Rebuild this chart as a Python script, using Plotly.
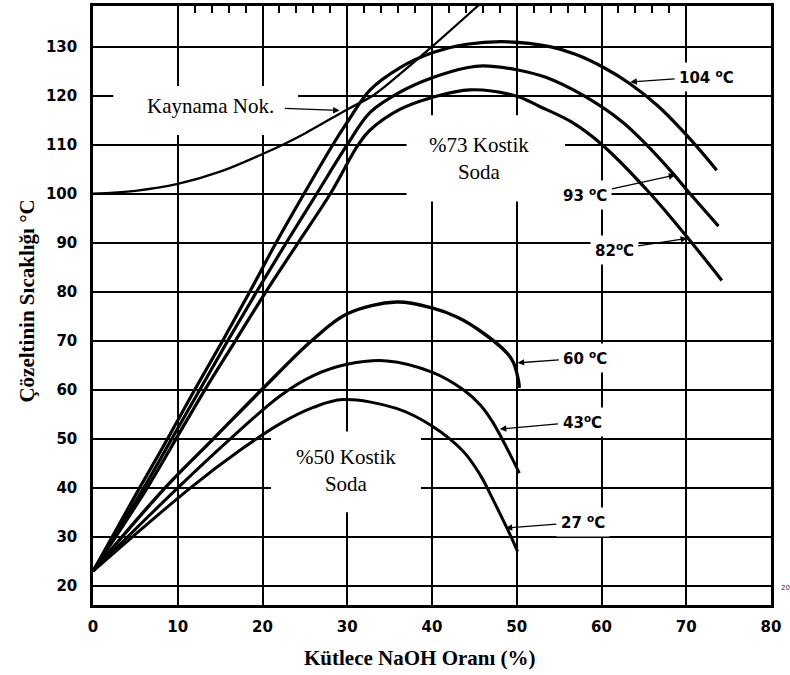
import plotly.graph_objects as go

# Boiling point of NaOH solutions
boil_x = [0, 5, 10, 15, 20, 22.4, 25, 30, 33, 36.2, 40, 45.4, 46.5]
boil_y = [100, 100.6, 102, 104.5, 108.1, 110, 112.3, 117.2, 120, 124.4, 130, 138.3, 140]

# 73 % caustic soda – solution temperature curves
t104_x = [0, 5.5, 8.8, 12.0, 15.3, 18.5, 21.6, 24.9, 28.3, 30.0, 32.7, 36.2, 40.1, 44.1, 49.0, 53.9, 57.0, 60.2, 63.4, 66.6, 70.6, 73.6]
t104_y = [23, 40, 50, 60, 70, 80, 90, 100, 110, 114.6, 121.2, 125.7, 128.8, 130.5, 131.0, 130.0, 128.4, 125.8, 122.4, 118.0, 110.9, 104.8]

t93_x = [0, 6.0, 9.3, 12.6, 15.9, 19.3, 22.8, 26.4, 30.0, 32.7, 36.2, 40.1, 44.1, 46.0, 50.0, 53.5, 57.8, 62.5, 65.3, 68.7, 70.2, 73.8]
t93_y = [23, 40, 50, 60, 70, 80, 90, 100, 110, 116.6, 120.7, 123.7, 125.7, 126.1, 125.3, 123.7, 120.1, 114.6, 110.0, 103.6, 100.5, 93.4]

t82_x = [0, 6.4, 9.8, 13.2, 16.8, 20.4, 24.2, 28.0, 31.3, 32.7, 36.2, 40.1, 44.5, 50.0, 52.7, 56.5, 60.0, 65.5, 70.6, 74.2]
t82_y = [23, 40, 50, 60, 70, 80, 90, 100, 110, 113, 117.2, 119.7, 121.2, 119.9, 117.8, 114.6, 110.1, 100.5, 90.1, 82.3]

# 50 % caustic soda – solution temperature curves
t60_x = [0, 8.5, 14.2, 19.9, 25.8, 30.0, 35.8, 40.0, 43.0, 45.7, 48.8, 49.6, 50.2, 50.3]
t60_y = [23, 40, 50, 60, 70, 75.5, 77.9, 76.7, 74.8, 72.0, 67.6, 65.6, 61.9, 60.4]

t43_x = [0, 10.0, 16.2, 22.1, 26.0, 30.0, 34.7, 40.0, 43.7, 45.7, 47.2, 49.6, 50.3]
t43_y = [23, 40, 50, 58.8, 62.9, 65.2, 65.9, 63.6, 60.0, 56.9, 53.3, 45.5, 43.0]

t27_x = [0, 11.5, 17.3, 22.1, 26.0, 29.5, 35.8, 40.0, 43.7, 45.7, 47.2, 49.6, 50.1]
t27_y = [23, 40, 47.6, 53.1, 56.4, 58.0, 56.2, 52.6, 47.4, 42.6, 37.6, 29.0, 27.0]

x_ticks = [0, 10, 20, 30, 40, 50, 60, 70, 80]
y_ticks = [20, 30, 40, 50, 60, 70, 80, 90, 100, 110, 120, 130]
top_minor_ticks = [v for v in range(12, 70, 2) if v % 10 != 0]

curve_labels = ["104 <sup>o</sup>C", "93 <sup>o</sup>C", "82<sup>o</sup>C",
                "60 <sup>o</sup>C", "43<sup>o</sup>C", "27 <sup>o</sup>C"]

SERIF = "Liberation Serif, Times New Roman, serif"
SANS = "DejaVu Sans, Arial, sans-serif"

fig = go.Figure()

curves = [
    (boil_x, boil_y, 2.3),
    (t104_x, t104_y, 3.2),
    (t93_x, t93_y, 3.2),
    (t82_x, t82_y, 3.2),
    (t60_x, t60_y, 3.4),
    (t43_x, t43_y, 3.0),
    (t27_x, t27_y, 3.0),
]
for xs, ys, w in curves:
    fig.add_trace(go.Scatter(
        x=xs, y=ys, mode="lines",
        line=dict(color="black", width=w, shape="spline", smoothing=1.0),
        showlegend=False, hoverinfo="skip",
    ))

# carrier trace for the top axis that holds the minor ticks
fig.add_trace(go.Scatter(
    x=boil_x, y=boil_y, xaxis="x2", mode="lines",
    line=dict(width=0, color="rgba(0,0,0,0)"),
    showlegend=False, hoverinfo="skip",
))

# white clear-outs in the grid behind the text blocks
for x0, x1, y0, y1 in [(2.4, 24.2, 112, 122), (37.0, 55.7, 98.4, 116), (21.0, 38.7, 35, 51.5)]:
    fig.add_shape(type="rect", xref="x", yref="y", x0=x0, x1=x1, y0=y0, y1=y1,
                  fillcolor="white", line=dict(width=0), layer="between")

annotations = []

# boiling-point label
annotations.append(dict(
    x=29.1, y=117.0, ax=13.9, ay=118.0, xref="x", yref="y", axref="x", ayref="y",
    text="Kaynama Nok.", showarrow=True, arrowhead=2, arrowsize=1, arrowwidth=1.3,
    arrowcolor="black", borderpad=10,
    font=dict(family=SERIF, size=21, color="black"),
))

# block labels
annotations.append(dict(
    x=45.6, y=107.2, xref="x", yref="y", text="%73 Kostik<br>Soda", showarrow=False,
    font=dict(family=SERIF, size=21, color="black"),
))
annotations.append(dict(
    x=29.9, y=43.6, xref="x", yref="y", text="%50 Kostik<br>Soda", showarrow=False,
    font=dict(family=SERIF, size=21, color="black"),
))

heads = [(63.4, 122.8), (68.7, 103.8), (70.1, 90.9), (50.1, 65.5), (48.0, 52.0), (48.7, 31.8)]
tails = [(72.4, 123.9), (58.1, 99.8), (61.5, 88.6), (58.1, 66.5), (57.7, 53.5), (57.8, 33.0)]
for label, (hx, hy), (tx, ty) in zip(curve_labels, heads, tails):
    annotations.append(dict(
        x=hx, y=hy, ax=tx, ay=ty, xref="x", yref="y", axref="x", ayref="y",
        text=label, showarrow=True, arrowhead=2, arrowsize=1, arrowwidth=1.3,
        arrowcolor="black", bgcolor="white", borderpad=4,
        font=dict(family=SANS, size=15, color="black", weight="bold"),
    ))

# axis titles
annotations.append(dict(
    x=0.482, y=-0.088, xref="paper", yref="paper", text="<b>Kütlece NaOH Oranı (%)</b>",
    showarrow=False, xanchor="center", yanchor="middle",
    font=dict(family=SERIF, size=21, color="black"),
))
annotations.append(dict(
    x=-0.097, y=0.507, xref="paper", yref="paper", text="<b>Çözeltinin Sıcaklığı °C</b>",
    showarrow=False, xanchor="center", yanchor="middle", textangle=-90,
    font=dict(family=SERIF, size=21, color="black"),
))
# small page number beside the frame
annotations.append(dict(
    x=1.012, y=19.6, xref="paper", yref="y", text="20", showarrow=False,
    xanchor="left", font=dict(family=SANS, size=7, color="#333"),
))

fig.update_layout(
    width=790, height=675,
    margin=dict(l=93, r=19, t=3, b=70),
    paper_bgcolor="white", plot_bgcolor="white",
    annotations=annotations,
    xaxis=dict(
        range=[0, 80], tickvals=x_ticks, ticktext=[str(v) for v in x_ticks],
        showgrid=True, gridcolor="black", gridwidth=1.5,
        showline=True, linecolor="black", linewidth=2.5, mirror=True,
        zeroline=False, ticks="", ticklabelstandoff=6,
        tickfont=dict(family=SANS, size=15, color="black", weight="bold"),
    ),
    xaxis2=dict(
        range=[0, 80], overlaying="x", side="top", anchor="y",
        tickvals=top_minor_ticks, ticks="inside", ticklen=7, tickwidth=1.5,
        tickcolor="black", showticklabels=False, showgrid=False, zeroline=False,
        showline=False,
    ),
    yaxis=dict(
        range=[16.1, 138.3], tickvals=y_ticks, ticktext=[str(v) for v in y_ticks],
        showgrid=True, gridcolor="black", gridwidth=2,
        showline=True, linecolor="black", linewidth=2.5, mirror=True,
        zeroline=False, ticks="", ticklabelstandoff=10,
        tickfont=dict(family=SANS, size=15, color="black", weight="bold"),
    ),
)

fig.write_html("out.html")
